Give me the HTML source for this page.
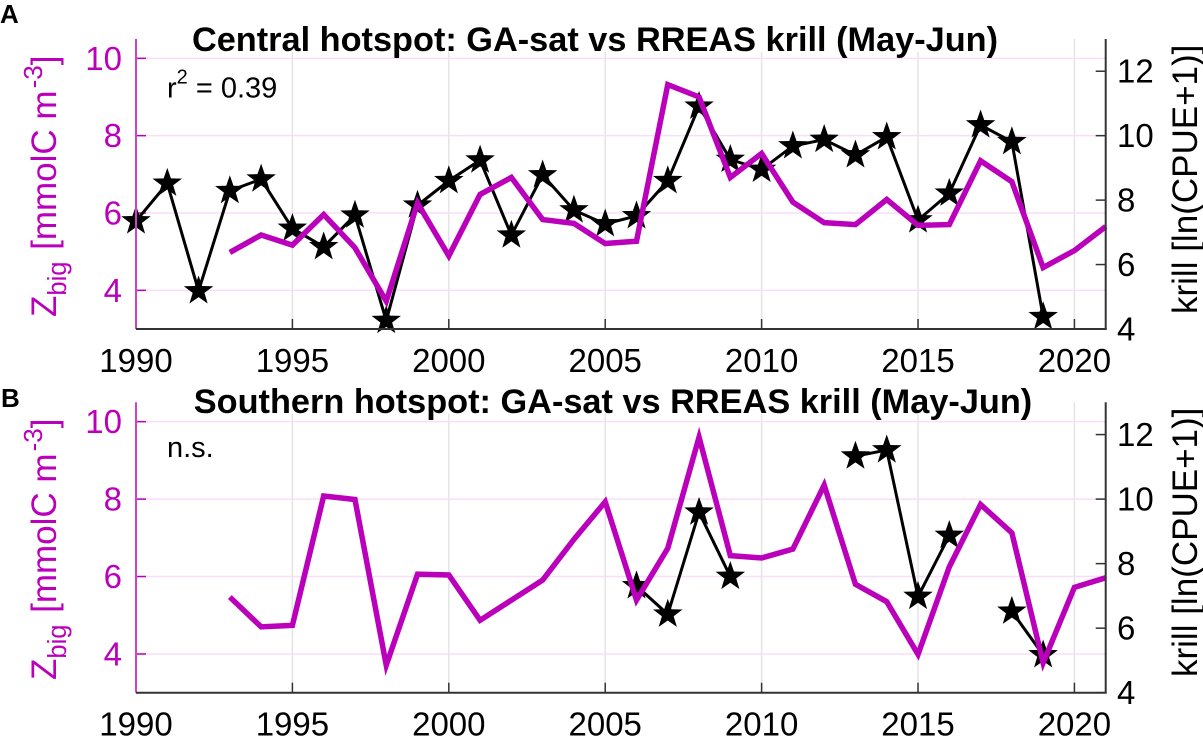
<!DOCTYPE html>
<html lang="en">
<head>
<meta charset="utf-8">
<title>GA-sat vs RREAS krill</title>
<style>
html,body{margin:0;padding:0;background:#fff;}
svg{display:block;font-family:"Liberation Sans",Arial,sans-serif;}
</style>
</head>
<body>
<svg id="fig" xmlns="http://www.w3.org/2000/svg" width="1203" height="736" viewBox="0 0 1203 736">
  <g id="panelA"></g>
  <g id="panelB"></g>

  <text x="0" y="23" font-size="26" font-weight="bold">A</text>
  <text x="1" y="407" font-size="26" font-weight="bold">B</text>

  <text x="595" y="51" text-anchor="middle" font-size="34.3" font-weight="bold">Central hotspot: GA-sat vs RREAS krill (May-Jun)</text>
  <text x="613" y="413" text-anchor="middle" font-size="34.3" font-weight="bold">Southern hotspot: GA-sat vs RREAS krill (May-Jun)</text>

  <text x="167" y="97.5" font-size="29">r<tspan font-size="20" dy="-14">2</tspan><tspan dy="14"> = 0.39</tspan></text>
  <text x="167" y="457" font-size="29">n.s.</text>

  <text transform="translate(56,317) rotate(-90)" font-size="35" fill="#bb00bb">Z<tspan font-size="25.5" dy="10">big</tspan><tspan dy="-10" dx="2"> [mmolC m</tspan><tspan font-size="26" dy="-14" dx="2">-3</tspan><tspan dy="14">]</tspan></text>
  <text transform="translate(56,680) rotate(-90)" font-size="35" fill="#bb00bb">Z<tspan font-size="25.5" dy="10">big</tspan><tspan dy="-10" dx="2"> [mmolC m</tspan><tspan font-size="26" dy="-14" dx="2">-3</tspan><tspan dy="14">]</tspan></text>
  <text transform="translate(1197,314) rotate(-90)" font-size="35">krill [ln(CPUE+1)]</text>
  <text transform="translate(1197,677) rotate(-90)" font-size="35">krill [ln(CPUE+1)]</text>
</svg>

<script>
const years = [1990,1991,1992,1993,1994,1995,1996,1997,1998,1999,2000,2001,2002,2003,2004,2005,2006,2007,2008,2009,2010,2011,2012,2013,2014,2015,2016,2017,2018,2019,2020,2021];
const xTickLabels = [1990,1995,2000,2005,2010,2015,2020];
const leftTickLabels = [4,6,8,10];
const rightTickLabels = [4,6,8,10,12];

const centralZbig = [null,null,null,4.98,5.43,5.17,5.96,5.10,3.72,6.26,4.89,6.48,6.92,5.83,5.73,5.21,5.27,9.32,9.00,6.92,7.54,6.28,5.75,5.70,6.35,5.68,5.70,7.35,6.81,4.59,5.03,5.65];
const centralKrill = [7.35,8.52,5.18,8.29,8.65,7.12,6.55,7.53,4.26,7.84,8.60,9.24,6.91,8.78,7.69,7.26,7.51,8.60,10.91,9.26,8.95,9.68,9.88,9.40,9.96,7.38,8.21,10.33,9.81,4.38,null,null];
const southernZbig = [null,null,null,5.47,4.70,4.74,8.08,7.99,3.71,6.06,6.04,4.87,5.39,5.91,6.96,7.93,5.39,6.73,9.60,6.54,6.48,6.71,8.36,5.80,5.35,3.99,6.25,7.86,7.13,3.77,5.72,5.97];
const southernKrill = [null,null,null,null,null,null,null,null,null,null,null,null,null,null,null,null,7.31,6.43,9.59,7.60,null,null,null,11.33,11.52,6.98,8.87,null,6.52,5.17,null,null];

const SVGNS = 'http://www.w3.org/2000/svg';
const MAGENTA = '#bb00bb';
const AXIS_DARK = '#333333';

function svgEl(tag, parent) {
  const el = document.createElementNS(SVGNS, tag);
  parent.appendChild(el);
  return el;
}

function makeLine(parent, x1, y1, x2, y2, color, width) {
  const el = svgEl('line', parent);
  el.setAttribute('x1', x1);
  el.setAttribute('y1', y1);
  el.setAttribute('x2', x2);
  el.setAttribute('y2', y2);
  el.setAttribute('stroke', color);
  el.setAttribute('stroke-width', width);
  return el;
}

function makeLabel(parent, x, y, anchor, color, content) {
  const el = svgEl('text', parent);
  el.setAttribute('x', x);
  el.setAttribute('y', y);
  el.setAttribute('text-anchor', anchor);
  el.setAttribute('font-size', '33');
  el.setAttribute('fill', color);
  el.textContent = content;
  return el;
}

function starPoints(cx, cy, R) {
  const r = R * 0.4;
  const pts = [];
  for (let i = 0; i < 10; i++) {
    const a = -Math.PI / 2 + i * Math.PI / 5;
    const rad = i % 2 === 0 ? R : r;
    pts.push((cx + rad * Math.cos(a)).toFixed(2) + ',' + (cy + rad * Math.sin(a)).toFixed(2));
  }
  return pts.join(' ');
}

function segments(values, xFn, yFn) {
  const runs = [];
  let cur = [];
  values.forEach(function (v, i) {
    if (v === null) {
      if (cur.length) runs.push(cur);
      cur = [];
    } else {
      cur.push(xFn(years[i]).toFixed(2) + ',' + yFn(v).toFixed(2));
    }
  });
  if (cur.length) runs.push(cur);
  return runs;
}

function drawPanel(root, top, bottom, zbig, krill, titleLeft, titleRight, titleBase) {
  const left = 136;
  const right = 1105.7;
  const xScale = function (yr) { return left + (yr - 1990) * (right - left) / 31; };
  const yLeft = function (v) { return bottom - (v - 3) * (bottom - top) / 7.5; };
  const yRight = function (v) { return bottom - (v - 4) * (bottom - top) / 9; };

  xTickLabels.forEach(function (yr) {
    const x = xScale(yr);
    if (yr !== 1990) {
      const grid = makeLine(root, x, top, x, bottom, '#e6e3e6', 1.5);
      
      
    }
  });
  leftTickLabels.forEach(function (v) {
    const y = yLeft(v);
    const grid = makeLine(root, left, y, right, y, '#f8def8', 1.5);
    
    
  });

  const mask = svgEl('rect', root);
  mask.setAttribute('x', titleLeft);
  mask.setAttribute('y', top - 4);
  mask.setAttribute('width', titleRight - titleLeft);
  mask.setAttribute('height', titleBase + 1 - top + 4);
  mask.setAttribute('fill', '#ffffff');
  
  

  xTickLabels.forEach(function (yr) {
    const x = xScale(yr);
    if (yr !== 1990) {
      const tick = makeLine(root, x, bottom - 10, x, bottom, AXIS_DARK, 1.5);
      
      
    }
    const lab = makeLabel(root, x, bottom + 43, 'middle', '#000000', String(yr));
    
    
  });

  leftTickLabels.forEach(function (v) {
    const y = yLeft(v);
    const tick = makeLine(root, left, y, left + 10, y, MAGENTA, 1.5);
    
    
    const lab = makeLabel(root, 122, y + 11.5, 'end', MAGENTA, String(v));
    
    
  });

  rightTickLabels.forEach(function (v) {
    const y = yRight(v);
    const tick = makeLine(root, right - 10, y, right, y, AXIS_DARK, 1.5);
    
    
    const lab = makeLabel(root, 1117, y + 11.5, 'start', '#000000', String(v));
    
    
  });

  segments(krill, xScale, yRight).forEach(function (run) {
    const line = svgEl('polyline', root);
    line.setAttribute('points', run.join(' '));
    line.setAttribute('fill', 'none');
    line.setAttribute('stroke', '#000000');
    line.setAttribute('stroke-width', '3');
    line.setAttribute('stroke-linejoin', 'miter');
    
    
  });

  krill.forEach(function (v, i) {
    if (v === null) return;
    const star = svgEl('polygon', root);
    star.setAttribute('points', starPoints(xScale(years[i]), yRight(v), 15.5));
    star.setAttribute('fill', '#000000');
    
    
  });

  segments(zbig, xScale, yLeft).forEach(function (run) {
    const line = svgEl('polyline', root);
    line.setAttribute('points', run.join(' '));
    line.setAttribute('fill', 'none');
    line.setAttribute('stroke', MAGENTA);
    line.setAttribute('stroke-width', '5.5');
    line.setAttribute('stroke-linejoin', 'miter');
    line.setAttribute('stroke-miterlimit', '10');
    
    
  });

  const leftAxis = makeLine(root, left, top, left, bottom, '#cc44cc', 2);
  
  

  const rightAxis = makeLine(root, right, top, right, bottom, AXIS_DARK, 2);
  
  

  const bottomAxis = makeLine(root, left, bottom, right + 1, bottom, AXIS_DARK, 2);
  
  
}

drawPanel(document.getElementById('panelA'), 39, 329, centralZbig, centralKrill, 186, 1004, 51);
drawPanel(document.getElementById('panelB'), 402.3, 692.7, southernZbig, southernKrill, 190, 1036, 413);
</script>
</body>
</html>
